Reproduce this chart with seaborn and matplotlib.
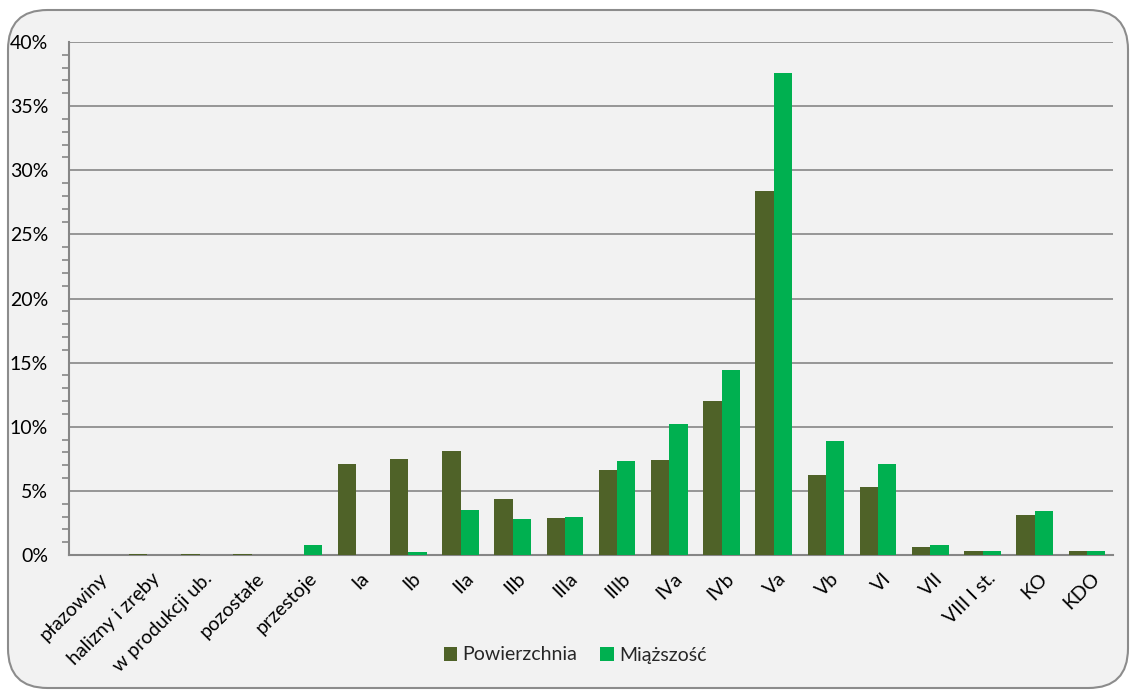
import pandas as pd
import seaborn as sns
import matplotlib.pyplot as plt
from matplotlib.patches import FancyBboxPatch
from matplotlib.ticker import MultipleLocator, PercentFormatter
from matplotlib.transforms import ScaledTranslation

categories = ['płazowiny', 'halizny i zręby', 'w produkcji ub.', 'pozostałe', 'przestoje',
              'Ia', 'Ib', 'IIa', 'IIb', 'IIIa', 'IIIb', 'IVa', 'IVb', 'Va', 'Vb',
              'VI', 'VII', 'VIII I st.', 'KO', 'KDO']
powierzchnia = [0.0, 0.1, 0.1, 0.1, 0.0, 7.1, 7.5, 8.1, 4.4, 2.9, 6.6, 7.4, 12.0,
                28.4, 6.2, 5.3, 0.6, 0.3, 3.1, 0.3]
miazszosc = [0.0, 0.0, 0.0, 0.0, 0.8, 0.0, 0.2, 3.5, 2.8, 3.0, 7.3, 10.2, 14.4,
             37.6, 8.9, 7.1, 0.8, 0.3, 3.4, 0.3]
series = ['Powierzchnia', 'Miąższość']
colors = ['#4F6228', '#00B050']

df = pd.DataFrame({
    'kat': categories * 2,
    'seria': [series[0]] * len(categories) + [series[1]] * len(categories),
    'udzial': powierzchnia + miazszosc,
})

sns.set_theme(style='white')
plt.rcParams['font.family'] = ['Lato', 'DejaVu Sans']

fig = plt.figure(figsize=(11.31, 6.9), dpi=100, facecolor='white')
fig.patches.append(FancyBboxPatch((8 / 1131, 2 / 690), 1120 / 1131, 678 / 690,
                                  boxstyle='round,pad=0,rounding_size=0.035',
                                  transform=fig.transFigure, facecolor='#F2F2F2',
                                  edgecolor='#8C8C8C', linewidth=1.5, zorder=-10,
                                  mutation_aspect=1131 / 690))
ax = fig.add_axes([69 / 1131, 1 - 555 / 690, 1044 / 1131, 513 / 690])
ax.set_facecolor('none')

sns.barplot(data=df, x='kat', y='udzial', hue='seria', palette=colors,
            width=0.7, saturation=1, linewidth=0, ax=ax, zorder=3)

ax.set_ylim(0, 40)
ax.set_xlim(-0.5, len(categories) - 0.5)
ax.yaxis.set_major_locator(MultipleLocator(5))
ax.yaxis.set_minor_locator(MultipleLocator(1))
ax.yaxis.set_major_formatter(PercentFormatter(decimals=0))
ax.grid(axis='y', which='major', color='#868686', linewidth=1.2, zorder=0)
ax.set_axisbelow(True)
for s in ['top', 'right']:
    ax.spines[s].set_visible(False)
for s in ['left', 'bottom']:
    ax.spines[s].set_color('#868686')
    ax.spines[s].set_linewidth(1.5)
ax.tick_params(axis='y', which='major', length=0, pad=15, labelsize=14, labelcolor='black')
ax.tick_params(axis='y', which='minor', left=True, length=5, width=1.2, color='#868686')
ax.tick_params(axis='x', length=0, labelsize=14, labelcolor='black')
ax.set_xlabel('')
ax.set_ylabel('')

ax.set_xticks(range(len(categories)))
ax.set_xticklabels(categories, rotation=45, ha='right', va='top', rotation_mode='anchor')
for lab in ax.get_xticklabels():
    lab.set_transform(lab.get_transform() + ScaledTranslation(4 / 100, -10 / 100, fig.dpi_scale_trans))

handles, labels = ax.get_legend_handles_labels()
ax.legend_.remove()
fig.legend(handles, labels, loc='center', bbox_to_anchor=(575 / 1131, 1 - 655 / 690),
           ncol=2, frameon=False, fontsize=14, handlelength=0.7, handleheight=0.7,
           handletextpad=0.25, columnspacing=1.2)

fig.savefig('out.png', dpi=100, facecolor='white')
